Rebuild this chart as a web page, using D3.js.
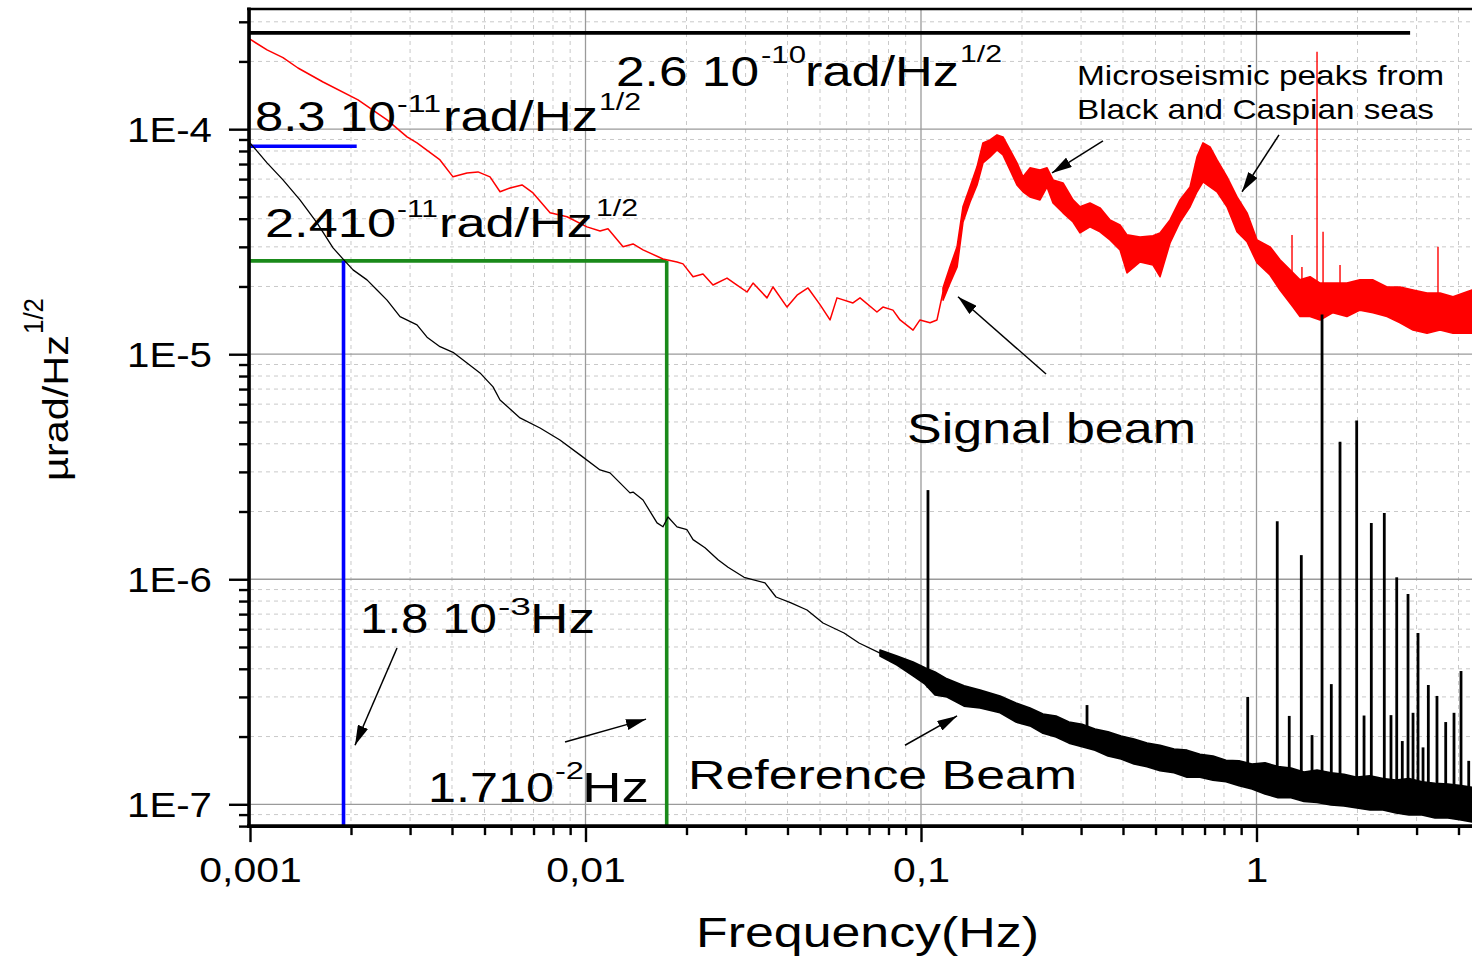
<!DOCTYPE html>
<html><head><meta charset="utf-8">
<script src="https://cdn.jsdelivr.net/npm/d3@7"></script>
<style>
body{margin:0;background:#fff}
svg{display:block}
text{font-family:"Liberation Sans",Arial,sans-serif;fill:#000}
</style>
</head><body>
<svg id="c" width="1472" height="957"></svg>
<script>
// ---------------- DATA ----------------
const xTickValues = [0.001, 0.01, 0.1, 1];
const xTickLabels = ["0,001", "0,01", "0,1", "1"];
const yTickValues = [1e-4, 1e-5, 1e-6, 1e-7];
const yTickLabels = ["1E-4", "1E-5", "1E-6", "1E-7"];

// Signal beam (red) - thin low-frequency part
const signalLineFreq = [0.001, 0.001124, 0.001254, 0.00139, 0.001651, 0.002099, 0.002561, 0.002938, 0.003146, 0.003684,
  0.004028, 0.004435, 0.004782, 0.005193, 0.005562, 0.005957, 0.006468, 0.006975, 0.00784, 0.00881,
  0.0101, 0.01105, 0.01167, 0.01294, 0.01386, 0.01484, 0.01702, 0.01874, 0.01953, 0.02092,
  0.0224, 0.02399, 0.02641, 0.02829, 0.0303, 0.03158, 0.03475, 0.03622, 0.03987, 0.04271,
  0.04605, 0.05, 0.05356, 0.05618, 0.0627, 0.0658, 0.0739, 0.077, 0.0825, 0.0866,
  0.0947, 0.0993, 0.1064, 0.1116, 0.1163];
const signalLineVal = [2.51e-4, 2.25e-4, 2.08e-4, 1.87e-4, 1.62e-4, 1.35e-4, 1.10e-4, 9.24e-5, 8.69e-5, 7.30e-5,
  6.14e-5, 6.39e-5, 6.46e-5, 6.14e-5, 5.27e-5, 5.48e-5, 5.65e-5, 5.21e-5, 4.25e-5, 4.08e-5,
  3.68e-5, 3.53e-5, 3.61e-5, 3.00e-5, 3.09e-5, 2.91e-5, 2.65e-5, 2.57e-5, 2.52e-5, 2.21e-5,
  2.27e-5, 2.03e-5, 2.18e-5, 2.03e-5, 1.89e-5, 2.07e-5, 1.78e-5, 1.99e-5, 1.62e-5, 1.83e-5,
  1.97e-5, 1.66e-5, 1.42e-5, 1.78e-5, 1.69e-5, 1.78e-5, 1.54e-5, 1.62e-5, 1.57e-5, 1.42e-5,
  1.28e-5, 1.42e-5, 1.38e-5, 1.42e-5, 1.89e-5];

// Signal beam (red) - noisy part: upper / lower envelope
const signalBandFreq = [0.1163, 0.1220, 0.1281, 0.1334, 0.1400, 0.1469, 0.1530, 0.1606, 0.1685, 0.1755,
  0.1842, 0.1932, 0.2014, 0.2113, 0.2263, 0.2375, 0.2475, 0.2650, 0.2839, 0.2978,
  0.3189, 0.3416, 0.3659, 0.3919, 0.4111, 0.4496, 0.4915, 0.5157, 0.5524, 0.5916,
  0.6337, 0.6649, 0.6928, 0.7269, 0.7628, 0.8168, 0.8748, 0.9370, 1.0035, 1.097,
  1.175, 1.285, 1.348, 1.444, 1.547, 1.690, 1.860, 2.034, 2.225, 2.449,
  2.678, 2.928, 3.223, 3.524, 3.853, 4.388];
const signalBandHi = [1.97e-5, 2.44e-5, 3.00e-5, 4.52e-5, 5.54e-5, 6.80e-5, 8.69e-5, 8.96e-5, 9.43e-5, 9.24e-5,
  8.09e-5, 7.08e-5, 6.14e-5, 6.73e-5, 6.59e-5, 6.73e-5, 5.95e-5, 5.77e-5, 4.85e-5, 4.52e-5,
  4.70e-5, 4.47e-5, 3.95e-5, 3.75e-5, 3.39e-5, 3.32e-5, 3.36e-5, 3.46e-5, 3.95e-5, 4.85e-5,
  5.54e-5, 7.53e-5, 8.69e-5, 8.34e-5, 7.30e-5, 6.14e-5, 5.00e-5, 4.25e-5, 3.22e-5, 3.00e-5,
  2.63e-5, 2.30e-5, 2.14e-5, 2.21e-5, 2.07e-5, 2.07e-5, 2.07e-5, 2.14e-5, 2.14e-5, 1.99e-5,
  1.99e-5, 1.93e-5, 1.87e-5, 1.87e-5, 1.80e-5, 1.93e-5];
const signalBandLo = [1.74e-5, 2.07e-5, 2.44e-5, 3.87e-5, 4.75e-5, 5.65e-5, 7.08e-5, 7.53e-5, 8.09e-5, 7.69e-5,
  6.59e-5, 5.65e-5, 5.27e-5, 5.00e-5, 4.85e-5, 5.54e-5, 4.70e-5, 4.25e-5, 3.87e-5, 3.46e-5,
  3.68e-5, 3.50e-5, 3.22e-5, 2.91e-5, 2.30e-5, 2.57e-5, 2.49e-5, 2.21e-5, 3.12e-5, 3.87e-5,
  4.52e-5, 5.27e-5, 5.83e-5, 5.54e-5, 5.27e-5, 4.52e-5, 3.50e-5, 3.16e-5, 2.55e-5, 2.25e-5,
  1.93e-5, 1.62e-5, 1.47e-5, 1.47e-5, 1.42e-5, 1.53e-5, 1.47e-5, 1.57e-5, 1.53e-5, 1.47e-5,
  1.38e-5, 1.28e-5, 1.24e-5, 1.28e-5, 1.24e-5, 1.24e-5];
const signalSpikeFreq = [1.276, 1.366, 1.515, 1.579, 1.774, 3.475];
const signalSpikeTop  = [3.39e-5, 2.44e-5, 2.21e-4, 3.50e-5, 2.49e-5, 3.00e-5];
const signalSpikeBase = [1.7e-5, 1.7e-5, 1.6e-5, 1.6e-5, 1.6e-5, 1.5e-5];

// Reference beam (black) - thin low-frequency part
const refLineFreq = [0.001, 0.001124, 0.001254, 0.001409, 0.001584, 0.001768, 0.00188, 0.002028, 0.002232, 0.002391,
  0.002561, 0.0028, 0.003146, 0.00337, 0.003684, 0.004028, 0.004435, 0.004848, 0.005302, 0.005562,
  0.00638, 0.00732, 0.00839, 0.00963, 0.01105, 0.01183, 0.01267, 0.01357, 0.01386, 0.01484,
  0.01634, 0.01702, 0.01762, 0.01874, 0.02007, 0.02092, 0.02271, 0.02483, 0.0266, 0.02969,
  0.03428, 0.03697, 0.04098, 0.04573, 0.05104, 0.05896, 0.06535, 0.07548];
const refLineVal = [8.69e-5, 7.08e-5, 5.95e-5, 4.85e-5, 3.83e-5, 2.97e-5, 2.68e-5, 2.37e-5, 2.14e-5, 1.93e-5,
  1.74e-5, 1.47e-5, 1.35e-5, 1.19e-5, 1.08e-5, 1.02e-5, 9.15e-6, 8.26e-6, 7.16e-6, 6.26e-6,
  5.21e-6, 4.70e-6, 4.16e-6, 3.57e-6, 3.06e-6, 2.97e-6, 2.68e-6, 2.42e-6, 2.44e-6, 2.25e-6,
  1.78e-6, 1.71e-6, 1.89e-6, 1.71e-6, 1.66e-6, 1.50e-6, 1.38e-6, 1.22e-6, 1.13e-6, 1.02e-6,
  9.63e-7, 8.34e-7, 7.85e-7, 7.30e-7, 6.39e-7, 5.77e-7, 5.21e-7, 4.70e-7];

// Reference beam (black) - noisy part: upper / lower envelope
const refBandFreq = [0.07548, 0.0848, 0.0947, 0.1028, 0.1101, 0.1195, 0.1344, 0.1500, 0.1720, 0.1919,
  0.2113, 0.2310, 0.2526, 0.2761, 0.3020, 0.3301, 0.3609, 0.3946, 0.4314, 0.4717,
  0.5157, 0.5677, 0.6206, 0.6785, 0.7419, 0.8111, 0.8868, 0.9696, 1.060, 1.159,
  1.267, 1.385, 1.515, 1.667, 1.823, 1.993, 2.179, 2.382, 2.605, 2.848,
  3.113, 3.404, 3.722, 4.070, 4.388];
const refBandHi = [4.85e-7, 4.56e-7, 4.29e-7, 4.04e-7, 3.87e-7, 3.61e-7, 3.36e-7, 3.22e-7, 3.03e-7, 2.82e-7,
  2.68e-7, 2.52e-7, 2.47e-7, 2.32e-7, 2.27e-7, 2.16e-7, 2.10e-7, 2.01e-7, 1.95e-7, 1.87e-7,
  1.83e-7, 1.76e-7, 1.74e-7, 1.67e-7, 1.64e-7, 1.57e-7, 1.56e-7, 1.51e-7, 1.53e-7, 1.47e-7,
  1.45e-7, 1.39e-7, 1.42e-7, 1.38e-7, 1.36e-7, 1.32e-7, 1.34e-7, 1.30e-7, 1.28e-7, 1.30e-7,
  1.26e-7, 1.24e-7, 1.23e-7, 1.21e-7, 1.19e-7];
const refBandLo = [4.56e-7, 4.16e-7, 3.72e-7, 3.42e-7, 3.06e-7, 3.00e-7, 2.73e-7, 2.68e-7, 2.55e-7, 2.32e-7,
  2.23e-7, 2.07e-7, 1.99e-7, 1.87e-7, 1.80e-7, 1.74e-7, 1.64e-7, 1.59e-7, 1.51e-7, 1.47e-7,
  1.41e-7, 1.38e-7, 1.32e-7, 1.32e-7, 1.28e-7, 1.26e-7, 1.21e-7, 1.17e-7, 1.11e-7, 1.07e-7,
  1.07e-7, 1.03e-7, 1.02e-7, 9.93e-8, 9.83e-8, 9.63e-8, 9.43e-8, 9.43e-8, 9.15e-8, 8.96e-8,
  8.96e-8, 8.69e-8, 8.69e-8, 8.51e-8, 8.34e-8];
const refSpikeFreq = [0.1049, 0.3125, 0.9415, 1.153, 1.252, 1.360, 1.464, 1.568, 1.671, 1.774,
  1.989, 2.092, 2.199, 2.404, 2.517, 2.618, 2.720, 2.829, 2.928, 3.030,
  3.136, 3.252, 3.451, 3.664, 3.879, 4.070, 4.291];
const refSpikeTop = [2.49e-6, 2.76e-7, 3.00e-7, 1.81e-6, 2.47e-7, 1.28e-6, 2.03e-7, 1.50e-5, 3.42e-7, 4.08e-6,
  5.07e-6, 2.48e-7, 1.78e-6, 1.97e-6, 2.49e-7, 1.02e-6, 1.91e-7, 8.60e-7, 2.55e-7, 5.77e-7,
  1.79e-7, 3.39e-7, 3.03e-7, 2.32e-7, 2.55e-7, 3.91e-7, 1.56e-7];
const refSpikeBase = [3.3e-7, 2.0e-7, 1.4e-7, 1.3e-7, 1.3e-7, 1.2e-7, 1.2e-7, 1.2e-7, 1.2e-7, 1.2e-7,
  1.2e-7, 1.1e-7, 1.1e-7, 1.1e-7, 1.1e-7, 1.1e-7, 1.1e-7, 1.1e-7, 1.1e-7, 1.1e-7,
  1.1e-7, 1.1e-7, 1.1e-7, 1.0e-7, 1.0e-7, 1.0e-7, 1.0e-7];

// Noise levels (horizontal marker lines) and corner frequencies (vertical lines)
const levelValues  = [2.68e-4, 8.4e-5, 2.6e-5];
const levelEndFreq = [2.87, 0.00208, 0.01746];
const levelColors  = ["#000000", "#0000ff", "#1a8a1a"];
const cornerFreq   = [0.0019, 0.01746];
const cornerTop    = [2.6e-5, 2.6e-5];
const cornerColors = ["#0000ff", "#1a8a1a"];

// Annotation arrows (tail -> tip)
const arrowTailF = [0.3487, 1.167, 0.2359, 0.002743, 0.00869, 0.0896];
const arrowTailV = [8.87e-5, 9.43e-5, 8.17e-6, 4.95e-7, 1.89e-7, 1.83e-7];
const arrowTipF  = [0.2458, 0.9054, 0.1289, 0.002056, 0.01515, 0.1281];
const arrowTipV  = [6.39e-5, 5.27e-5, 1.80e-5, 1.83e-7, 2.39e-7, 2.47e-7];

// ---------------- CHART ----------------
const W = 1472, H = 957;
const L = 250, R = 1491, T = 9, B = 826.1;
const svg = d3.select("#c");
const x = d3.scaleLog().domain([0.001, 5]).range([L, R]);
const y = d3.scaleLog().domain([8e-8, 3.42e-4]).range([B, T]);

svg.append("rect").attr("width", W).attr("height", H).attr("fill", "#fff");
const defs = svg.append("defs");
defs.append("clipPath").attr("id", "plot").append("rect")
  .attr("x", L).attr("y", T).attr("width", R - L).attr("height", B - T);
defs.append("marker").attr("id", "ah").attr("viewBox", "0 0 20 11")
  .attr("refX", 20).attr("refY", 5.5).attr("markerWidth", 20).attr("markerHeight", 11)
  .attr("markerUnits", "userSpaceOnUse").attr("orient", "auto")
  .append("path").attr("d", "M0,0L20,5.5L0,11Z").attr("fill", "#000");

const isMajor = v => Math.abs(Math.log10(v) - Math.round(Math.log10(v))) < 1e-6;
const xAll = x.ticks(), yAll = y.ticks();
const xMinor = xAll.filter(v => !isMajor(v)), yMinor = yAll.filter(v => !isMajor(v));
const xMajor = xAll.filter(isMajor), yMajor = yAll.filter(isMajor);

// grid
const grid = svg.append("g").attr("clip-path", "url(#plot)");
grid.selectAll(".gxm").data(xMinor).join("line")
  .attr("x1", d => x(d)).attr("x2", d => x(d)).attr("y1", T).attr("y2", B)
  .attr("stroke", "#c9c9c9").attr("stroke-width", 1).attr("stroke-dasharray", "4,4");
grid.selectAll(".gym").data(yMinor).join("line")
  .attr("y1", d => y(d)).attr("y2", d => y(d)).attr("x1", L).attr("x2", W)
  .attr("stroke", "#c9c9c9").attr("stroke-width", 1).attr("stroke-dasharray", "4,4");
grid.selectAll(".gxM").data(xMajor).join("line")
  .attr("x1", d => x(d)).attr("x2", d => x(d)).attr("y1", T).attr("y2", B)
  .attr("stroke", "#9a9a9a").attr("stroke-width", 1.3);
grid.selectAll(".gyM").data(yMajor).join("line")
  .attr("y1", d => y(d)).attr("y2", d => y(d)).attr("x1", L).attr("x2", W)
  .attr("stroke", "#9a9a9a").attr("stroke-width", 1.3);

const plot = svg.append("g").attr("clip-path", "url(#plot)");

// noise level lines and corner lines
plot.selectAll(".lvl").data(levelValues).join("line")
  .attr("x1", x(0.001)).attr("x2", (d, i) => x(levelEndFreq[i]))
  .attr("y1", d => y(d)).attr("y2", d => y(d))
  .attr("stroke", (d, i) => levelColors[i]).attr("stroke-width", 3.6);
plot.selectAll(".crn").data(cornerFreq).join("line")
  .attr("x1", d => x(d)).attr("x2", d => x(d))
  .attr("y1", (d, i) => y(cornerTop[i])).attr("y2", B)
  .attr("stroke", (d, i) => cornerColors[i]).attr("stroke-width", 3.6);

// curves
function drawSeries(color, lf, lv, bf, bh, bl, sf, st, sb, lw, sw) {
  const g = plot.append("g");
  g.append("path").datum(bf.map((f, i) => ({f, hi: bh[i], lo: bl[i]})))
    .attr("d", d3.area().x(d => x(d.f)).y0(d => y(d.lo)).y1(d => y(d.hi)))
    .attr("fill", color).attr("stroke", color).attr("stroke-width", 1.6).attr("stroke-linejoin", "round");
  g.append("path").datum(lf.map((f, i) => ({f, v: lv[i]})))
    .attr("d", d3.line().x(d => x(d.f)).y(d => y(d.v)))
    .attr("fill", "none").attr("stroke", color).attr("stroke-width", lw).attr("stroke-linejoin", "round");
  g.selectAll(".sp").data(sf).join("line")
    .attr("x1", d => x(d)).attr("x2", d => x(d))
    .attr("y1", (d, i) => y(sb[i])).attr("y2", (d, i) => y(st[i]))
    .attr("stroke", color).attr("stroke-width", sw);
}
drawSeries("#ff0000", signalLineFreq, signalLineVal, signalBandFreq, signalBandHi, signalBandLo,
  signalSpikeFreq, signalSpikeTop, signalSpikeBase, 1.5, 1.4);
drawSeries("#000000", refLineFreq, refLineVal, refBandFreq, refBandHi, refBandLo,
  refSpikeFreq, refSpikeTop, refSpikeBase, 1.3, 2.8);

// arrows
svg.selectAll(".arr").data(arrowTailF).join("line")
  .attr("x1", d => x(d)).attr("y1", (d, i) => y(arrowTailV[i]))
  .attr("x2", (d, i) => x(arrowTipF[i])).attr("y2", (d, i) => y(arrowTipV[i]))
  .attr("stroke", "#000").attr("stroke-width", 1.5).attr("marker-end", "url(#ah)");

// axes
const fontFam = '"Liberation Sans", Arial, sans-serif';
function styleAxis(g) {
  g.select(".domain").remove();
  g.selectAll(".tick line").attr("stroke", "#000").attr("stroke-width", 2.4);
  g.attr("font-family", fontFam);
}
const gxMin = svg.append("g").attr("transform", `translate(0,${B})`)
  .call(d3.axisBottom(x).tickValues(xMinor).tickSize(9).tickFormat(""));
styleAxis(gxMin);
const gx = svg.append("g").attr("transform", `translate(0,${B})`)
  .call(d3.axisBottom(x).tickValues(xTickValues).tickSize(16).tickFormat((d, i) => xTickLabels[i]));
styleAxis(gx);
gx.selectAll(".tick text").attr("y", 0).attr("dy", 0).attr("font-size", 35)
  .attr("transform", "translate(0,56) scale(1.17,1)").attr("fill", "#000");

const gyMin = svg.append("g").attr("transform", `translate(249,0)`)
  .call(d3.axisLeft(y).tickValues(yMinor).tickSize(10).tickFormat(""));
styleAxis(gyMin);
const gy = svg.append("g").attr("transform", `translate(249,0)`)
  .call(d3.axisLeft(y).tickValues(yTickValues).tickSize(20).tickFormat((d, i) => yTickLabels[i]));
styleAxis(gy);
gy.selectAll(".tick text").attr("x", 0).attr("dy", 0).attr("font-size", 35)
  .attr("transform", "translate(-37,12.7) scale(1.15,1)").attr("fill", "#000");

// frame lines
svg.append("line").attr("x1", 249).attr("x2", 249).attr("y1", T - 1.5).attr("y2", B + 1.5)
  .attr("stroke", "#000").attr("stroke-width", 3.6);
svg.append("line").attr("x1", 247).attr("x2", W).attr("y1", B).attr("y2", B)
  .attr("stroke", "#000").attr("stroke-width", 3.6);
svg.append("line").attr("x1", 247).attr("x2", W).attr("y1", T).attr("y2", T)
  .attr("stroke", "#000").attr("stroke-width", 2.6);

// text annotations (layout in pixels)
const ann = svg.append("g");
function piece(str, x0, x1, base, size) {
  ann.append("text").attr("x", x0).attr("y", base).attr("font-size", size)
    .attr("textLength", x1 - x0).attr("lengthAdjust", "spacingAndGlyphs").text(str);
}
piece("2.6 10", 616, 759, 86, 42); piece("-10", 761, 806, 63, 24);
piece("rad/Hz", 805, 959, 86, 42); piece("1/2", 960, 1002, 62, 24);
piece("8.3 10", 255, 396, 131, 43); piece("-11", 397, 441, 112, 24);
piece("rad/Hz", 443, 598, 131, 43); piece("1/2", 599, 641, 110, 23);
piece("2.410", 265, 396, 237, 41); piece("-11", 397, 438, 217, 24);
piece("rad/Hz", 439, 593, 237, 41); piece("1/2", 596, 638, 216, 24);
piece("1.8 10", 360, 497, 633, 42); piece("-3", 498, 531, 615, 23);
piece("Hz", 530, 595, 633, 42);
piece("1.710", 428, 554, 802, 43); piece("-2", 555, 584, 779, 23);
piece("Hz", 582, 649, 802, 43);
piece("Signal beam", 907, 1196, 443, 43);
piece("Reference Beam", 688, 1077, 789, 41);
piece("Microseismic peaks from", 1077, 1444, 85, 28);
piece("Black and Caspian seas", 1077, 1434, 119, 28);
piece("Frequency(Hz)", 696, 1039, 947, 42);

// y axis title (rotated)
const yt = svg.append("g").attr("transform", "translate(68,481) rotate(-90)");
yt.append("text").attr("x", 0).attr("y", 0).attr("font-size", 35)
  .attr("textLength", 146).attr("lengthAdjust", "spacingAndGlyphs").text("\u00B5rad/Hz");
yt.append("text").attr("x", 147).attr("y", -25).attr("font-size", 27)
  .attr("textLength", 36).attr("lengthAdjust", "spacingAndGlyphs").text("1/2");
</script>
</body></html>
